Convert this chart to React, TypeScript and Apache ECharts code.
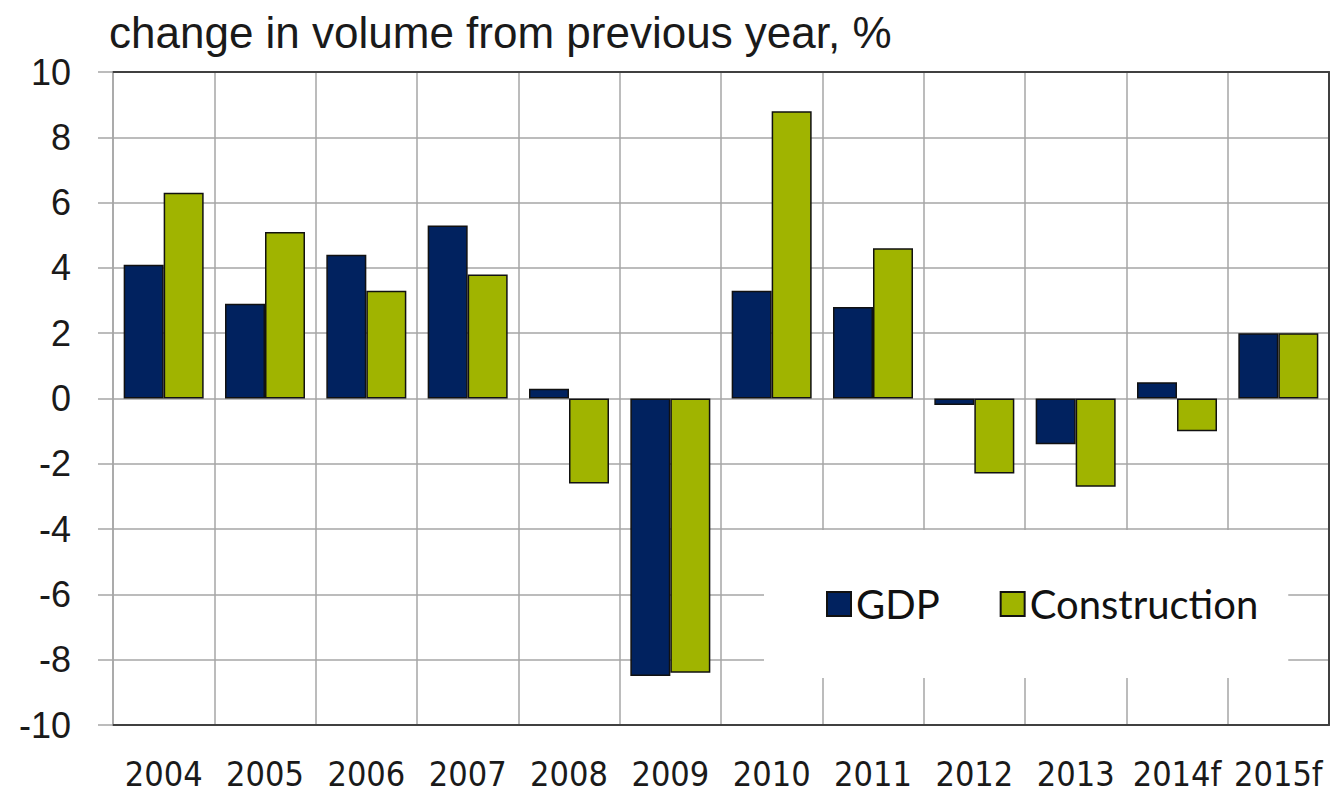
import React, { useEffect, useRef } from "react";
import * as echarts from "echarts";

const categories = ["2004", "2005", "2006", "2007", "2008", "2009", "2010", "2011", "2012", "2013", "2014f", "2015f"];
const gdp = [4.1, 2.9, 4.4, 5.3, 0.3, -8.5, 3.3, 2.8, -0.2, -1.4, 0.5, 2.0];
const construction = [6.3, 5.1, 3.3, 3.8, -2.6, -8.4, 8.8, 4.6, -2.3, -2.7, -1.0, 2.0];
const titleText = "change in volume from previous year, %";
const seriesNames = ["GDP", "Construction"];

const GRID_GRAY = "#a6a6a6";
const DARK = "#404040";

export default function App() {
  const ref = useRef<HTMLDivElement>(null);
  useEffect(() => {
    if (!ref.current) return;
    const chart = echarts.init(ref.current, undefined, { renderer: "svg" });
    const barStyle = (color: string) => ({ color, borderColor: "#111111", borderWidth: 1.5 });
    chart.setOption({
      animation: false,
      backgroundColor: "#ffffff",
      title: {
        text: titleText,
        left: 104,
        top: 5,
        textStyle: { fontSize: 44, fontWeight: "normal", fontFamily: "'Liberation Sans', Arial, sans-serif", color: "#1a1a1a" },
      },
      grid: { left: 113, right: 1, top: 72, bottom: 68, containLabel: false },
      legend: {
        data: seriesNames,
        left: 764,
        top: 530,
        padding: [54, 30, 54, 62],
        backgroundColor: "#ffffff",
        itemWidth: 24,
        itemHeight: 24,
        itemGap: 60,
        icon: "rect",
        textStyle: { fontSize: 40, lineHeight: 40, fontFamily: "Lato, 'Open Sans', sans-serif", color: "#111111" },
      },
      xAxis: [
        {
          type: "category",
          data: categories,
          position: "bottom",
          axisLine: { onZero: false, lineStyle: { color: DARK, width: 2 } },
          axisTick: { show: false },
          splitLine: { show: true, lineStyle: { color: GRID_GRAY, width: 1.5 } },
          axisLabel: {
            interval: 0,
            margin: 32,
            fontSize: 34,
            lineHeight: 34,
            fontFamily: "'DejaVu Sans Condensed', 'Liberation Sans Narrow', sans-serif",
            color: "#1a1a1a",
          },
        },
        {
          type: "category",
          data: categories,
          position: "top",
          axisLine: { onZero: false, lineStyle: { color: DARK, width: 2 } },
          axisTick: { show: false },
          axisLabel: { show: false },
          splitLine: { show: false },
        },
      ],
      yAxis: [
        {
          type: "value",
          min: -10,
          max: 10,
          interval: 2,
          axisLine: { show: true, lineStyle: { color: GRID_GRAY, width: 1.5 } },
          axisTick: { show: true, length: 15, lineStyle: { color: GRID_GRAY, width: 1.5 } },
          splitLine: { show: true, lineStyle: { color: GRID_GRAY, width: 1.5 } },
          axisLabel: {
            margin: 42,
            fontSize: 36,
            fontFamily: "'Liberation Sans', Arial, sans-serif",
            color: "#1a1a1a",
          },
        },
        {
          type: "value",
          min: -10,
          max: 10,
          interval: 2,
          position: "right",
          axisLine: { show: true, lineStyle: { color: DARK, width: 2 } },
          axisTick: { show: false },
          axisLabel: { show: false },
          splitLine: { show: false },
        },
      ],
      series: [
        {
          name: seriesNames[0],
          type: "bar",
          data: gdp,
          barWidth: 40,
          barGap: "0%",
          itemStyle: barStyle("#01225f"),
        },
        {
          name: seriesNames[1],
          type: "bar",
          data: construction,
          barWidth: 40,
          barGap: "0%",
          itemStyle: barStyle("#a0b400"),
        },
      ],
    });
    return () => chart.dispose();
  }, []);
  return <div ref={ref} style={{ position: "fixed", left: 0, top: 0, width: 1330, height: 793 }} />;
}
